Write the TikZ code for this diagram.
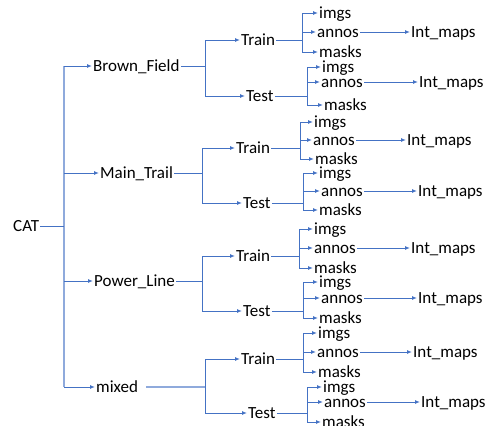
\documentclass[tikz,border=0pt]{standalone}
\usepackage{fontspec}
\setmainfont{Carlito}
\usetikzlibrary{arrows.meta}
\definecolor{lnblue}{HTML}{4472C4}
\definecolor{lnlight}{HTML}{8FAADC}
\begin{document}
\begin{tikzpicture}[x=1pt,y=-1pt,
  lbl/.style={inner xsep=1pt, inner ysep=0pt, text height=11pt, text depth=0pt,
              font=\fontsize{17}{20}\selectfont, anchor=west},
  conn/.style={draw=lnblue, line width=1pt},
  lconn/.style={draw=lnlight, line width=1.5pt},
  arr/.style={conn, -{Latex[length=5pt,width=4pt]}},
]
\clip (0,0) rectangle (488,426);
\useasboundingbox (0,0) rectangle (488,426);

% root
\node[lbl] (CAT) at (12,226) {CAT};
\coordinate (sp-top) at (64,66);
\coordinate (sp-cat) at (64,226);
\coordinate (sp-bot) at (64,387);
\coordinate (sp-bf) at (64,66);
\coordinate (sp-mt) at (64,173);
\coordinate (sp-pl) at (64,281);
\coordinate (sp-mx) at (64,387);
\draw[lconn] (sp-top) -- (sp-bot);
\draw[conn] (CAT.east) -- (sp-cat);

% level 1
\node[lbl] (BF) at (92,66) {Brown\_Field};
\node[lbl] (MT) at (99,173) {Main\_Trail};
\node[lbl] (PL) at (93,281) {Power\_Line};
\node[lbl] (MX) at (95,387) {mixed};
\draw[arr] (sp-bf) -- (BF.west);
\draw[arr] (sp-mt) -- (MT.west);
\draw[arr] (sp-pl) -- (PL.west);
\draw[arr] (sp-mx) -- (MX.west);

% level 2 nodes
\foreach \p/\jx/\ry/\ey/\rx/\ex in {BF/205/40/96/240/245, MT/202/148/203/235/242, PL/202/256/311/235/242, MX/205/359/413/240/247}{
  \node[lbl] (\p-Train) at (\rx,\ry) {Train};
  \node[lbl] (\p-Test) at (\ex,\ey) {Test};
  \coordinate (\p-jt) at (\jx,\ry);
  \coordinate (\p-jb) at (\jx,\ey);
  \draw[conn] (\p-jt) -- (\p-jb);
  \draw[arr] (\p-jt) -- (\p-Train.west);
  \draw[arr] (\p-jb) -- (\p-Test.west);
}
\coordinate (BF-jm) at (205,66);
\coordinate (MT-jm) at (202,173);
\coordinate (PL-jm) at (202,281);
\coordinate (MX-jm) at (205,387);
\draw[conn] (BF.east) -- (BF-jm);
\draw[conn] (MT.east) -- (MT-jm);
\draw[conn] (PL.east) -- (PL-jm);
\draw[lconn, line width=1.2pt, shorten <=7pt] (MX.east) -- (MX-jm);

% level 3 groups
\foreach \g/\pn/\jx/\iy/\ay/\my/\ix/\ax/\mx/\nx in {
  BFr/BF-Train/302/13/32/52/318/316/318/410,
  BFe/BF-Test/307/67/82/105/321/320/323/418,
  MTr/MT-Train/300/122/140/159/313/312/314/406,
  MTe/MT-Test/303/173/191/210/318/320/318/417,
  PLr/PL-Train/299/229/248/268/313/313/313/410,
  PLe/PL-Test/303/282/298/318/318/320/318/417,
  MXr/MX-Train/303/333/352/372/317/316/317/412,
  MXe/MX-Test/307/387/402/422/322/323/321/420}{
  \node[lbl] (\g-imgs) at (\ix,\iy) {imgs};
  \node[lbl] (\g-annos) at (\ax,\ay) {annos};
  \node[lbl] (\g-masks) at (\mx,\my) {masks};
  \node[lbl] (\g-int) at (\nx,\ay) {Int\_maps};
  \coordinate (\g-jt) at (\jx,\iy);
  \coordinate (\g-ja) at (\jx,\ay);
  \coordinate (\g-jb) at (\jx,\my);
  \path (\pn.east) -| coordinate[pos=1] (\g-jp) (\g-jt);
  \draw[conn] (\g-jt) -- (\g-jb);
  \draw[conn] (\pn.east) -- (\jx,0 |- \pn.east);
  \draw[arr] (\g-jt) -- (\g-imgs.west);
  \draw[arr] (\g-ja) -- (\g-annos.west);
  \draw[arr] (\g-jb) -- (\g-masks.west);
  \draw[arr] (\g-annos.east) -- (\g-int.west);
}
\end{tikzpicture}
\end{document}
